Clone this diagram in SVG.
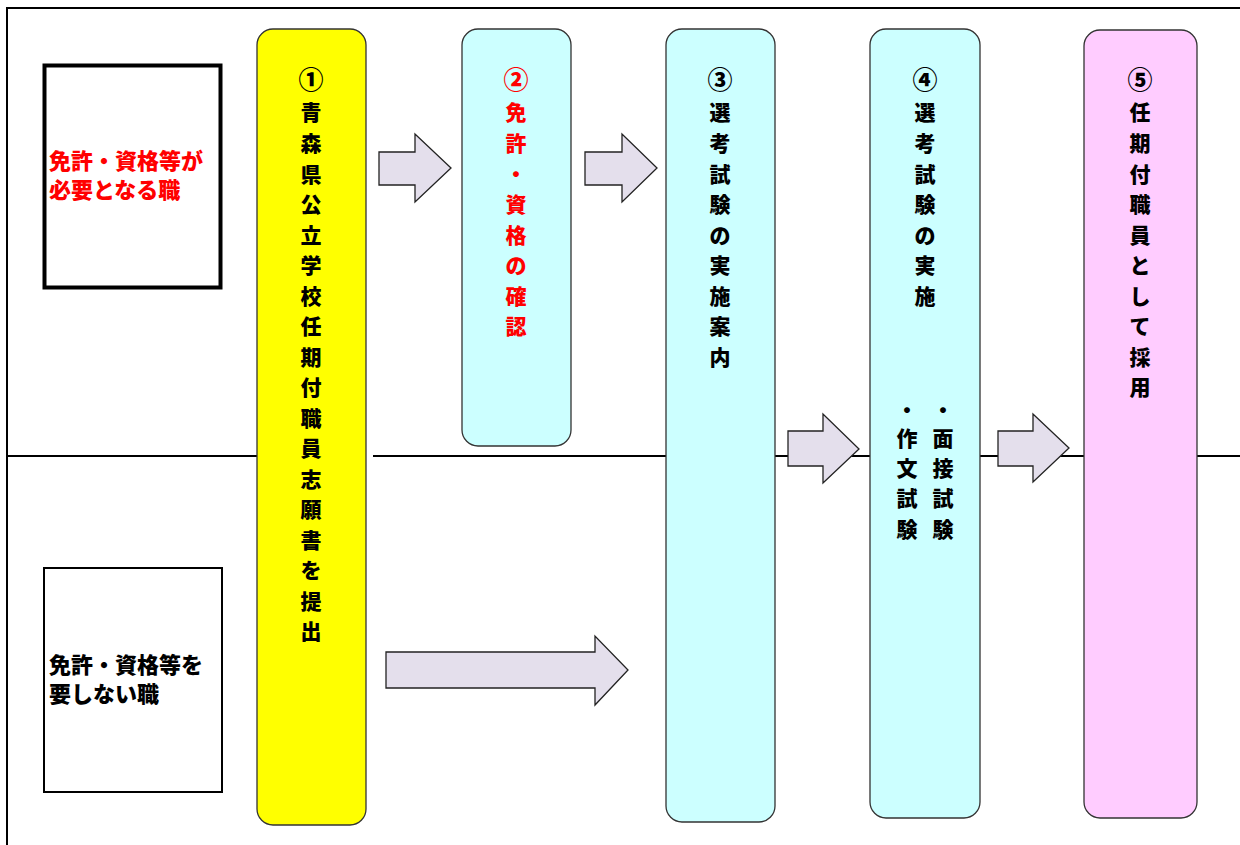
<svg xmlns="http://www.w3.org/2000/svg" width="1240" height="845" viewBox="0 0 1240 845">
<defs>
<style>
.t{font-family:"Noto Sans CJK JP","Noto Sans",sans-serif;font-weight:900;font-size:21px;}
.h{font-size:22px;}
.v{text-anchor:middle;}
.n{font-size:25px;}
.red{fill:#ff0000;}
.blk{fill:#000;}
.arrow{fill:#e4dfec;stroke:#222;stroke-width:1.3;}
.bar{stroke:#333;stroke-width:1.3;}
</style>
</defs>
<rect x="0" y="0" width="1240" height="845" fill="#fff"/>
<g id="frame" fill="none" stroke="#000" stroke-width="2">
<path d="M7,845 V8 H1240"/>
<path d="M7,456 H257 M373,456 H1240"/>
</g>
<g id="box-license">
<rect x="44.5" y="65.5" width="176" height="222" fill="#fff" stroke="#000" stroke-width="4"/>
<text class="t h red"><tspan x="49" y="169">免許・資格等が</tspan><tspan x="49" y="198">必要となる職</tspan></text>
</g>
<g id="box-nolicense">
<rect x="44" y="568" width="178" height="224" fill="#fff" stroke="#000" stroke-width="2"/>
<text class="t h blk"><tspan x="49" y="673">免許・資格等を</tspan><tspan x="49" y="702">要しない職</tspan></text>
</g>
<g id="step1">
<rect class="bar" x="257" y="29" width="109" height="796" rx="16" fill="#ffff00"/>
<text class="t v blk"><tspan class="n" x="311" y="89">①</tspan><tspan x="311" y="120">青</tspan><tspan x="311" y="151">森</tspan><tspan x="311" y="182">県</tspan><tspan x="311" y="212">公</tspan><tspan x="311" y="243">立</tspan><tspan x="311" y="273">学</tspan><tspan x="311" y="304">校</tspan><tspan x="311" y="334">任</tspan><tspan x="311" y="365">期</tspan><tspan x="311" y="395">付</tspan><tspan x="311" y="426">職</tspan><tspan x="311" y="456">員</tspan><tspan x="311" y="487">志</tspan><tspan x="311" y="517">願</tspan><tspan x="311" y="548">書</tspan><tspan x="311" y="578">を</tspan><tspan x="311" y="609">提</tspan><tspan x="311" y="639">出</tspan></text>
</g>
<g id="step2">
<rect class="bar" x="462" y="29" width="109" height="417" rx="16" fill="#ccffff"/>
<text class="t v red"><tspan class="n" x="516" y="89">②</tspan><tspan x="516" y="120">免</tspan><tspan x="516" y="151">許</tspan><tspan x="516" y="182">・</tspan><tspan x="516" y="212">資</tspan><tspan x="516" y="243">格</tspan><tspan x="516" y="273">の</tspan><tspan x="516" y="304">確</tspan><tspan x="516" y="334">認</tspan></text>
</g>
<g id="step3">
<rect class="bar" x="666" y="29" width="109" height="793" rx="16" fill="#ccffff"/>
<text class="t v blk"><tspan class="n" x="720" y="89">③</tspan><tspan x="720" y="120">選</tspan><tspan x="720" y="151">考</tspan><tspan x="720" y="182">試</tspan><tspan x="720" y="212">験</tspan><tspan x="720" y="243">の</tspan><tspan x="720" y="273">実</tspan><tspan x="720" y="304">施</tspan><tspan x="720" y="334">案</tspan><tspan x="720" y="365">内</tspan></text>
</g>
<g id="step4">
<rect class="bar" x="870" y="29" width="110" height="789" rx="16" fill="#ccffff"/>
<text class="t v blk"><tspan class="n" x="925" y="89">④</tspan><tspan x="925" y="120">選</tspan><tspan x="925" y="151">考</tspan><tspan x="925" y="182">試</tspan><tspan x="925" y="212">験</tspan><tspan x="925" y="243">の</tspan><tspan x="925" y="273">実</tspan><tspan x="925" y="304">施</tspan></text>
<text class="t v blk"><tspan x="943" y="418">・</tspan><tspan x="943" y="446">面</tspan><tspan x="943" y="476">接</tspan><tspan x="943" y="506">試</tspan><tspan x="943" y="537">験</tspan></text>
<text class="t v blk"><tspan x="907" y="418">・</tspan><tspan x="907" y="446">作</tspan><tspan x="907" y="476">文</tspan><tspan x="907" y="506">試</tspan><tspan x="907" y="537">験</tspan></text>
</g>
<g id="step5">
<rect class="bar" x="1084" y="30" width="113" height="788" rx="16" fill="#ffccff"/>
<text class="t v blk"><tspan class="n" x="1140" y="89">⑤</tspan><tspan x="1140" y="120">任</tspan><tspan x="1140" y="151">期</tspan><tspan x="1140" y="182">付</tspan><tspan x="1140" y="212">職</tspan><tspan x="1140" y="243">員</tspan><tspan x="1140" y="273">と</tspan><tspan x="1140" y="304">し</tspan><tspan x="1140" y="334">て</tspan><tspan x="1140" y="365">採</tspan><tspan x="1140" y="395">用</tspan></text>
</g>
<g id="connectors">
<polygon class="arrow" points="379,152 415,152 415,134 451,168 415,202 415,185 379,185"/>
<polygon class="arrow" points="585,152 622,152 622,134 657,168 622,202 622,185 585,185"/>
<polygon class="arrow" points="788,431 823,431 823,414 859,449 823,483 823,466 788,466"/>
<polygon class="arrow" points="998,431 1033,431 1033,414 1069,448 1033,482 1033,466 998,466"/>
<polygon class="arrow" points="386,652 595,652 595,636 628,670 595,705 595,688 386,688"/>
</g>
</svg>
